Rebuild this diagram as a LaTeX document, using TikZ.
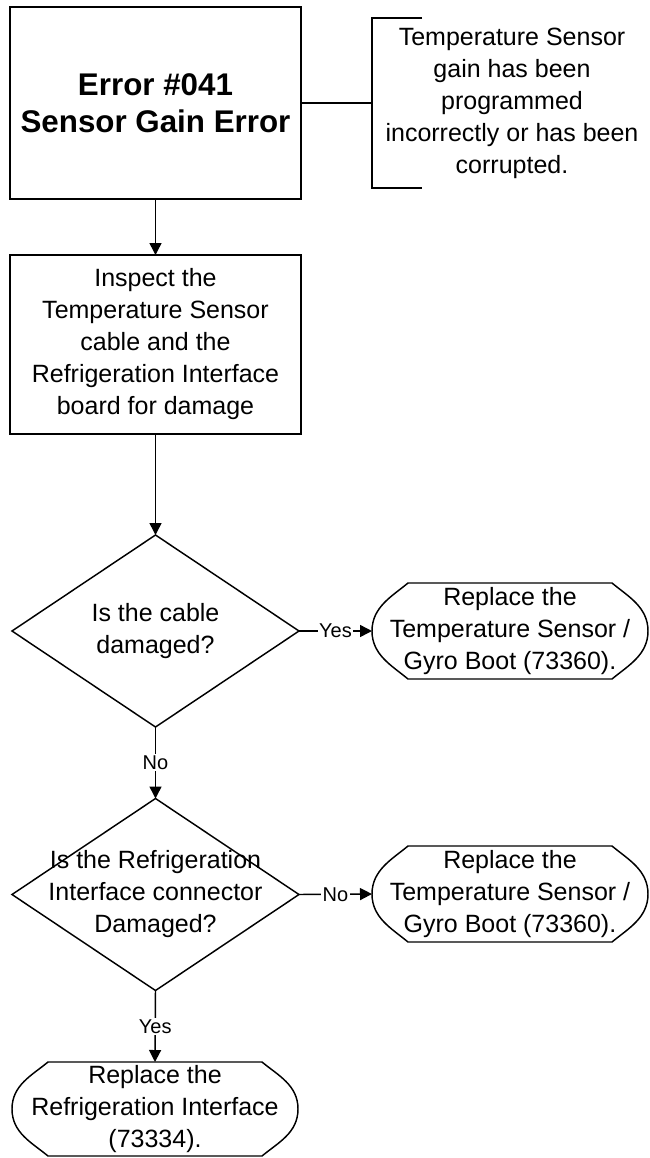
\documentclass[tikz,border=0pt]{standalone}
\usepackage{fontspec}
\setmainfont{Liberation Sans}
\usetikzlibrary{arrows.meta,shapes.geometric}
\tikzset{
  every picture/.style={line join=miter, >={Triangle[length=9pt,width=9pt]}},
  txt/.style={font=\fontsize{18.75}{24}\selectfont, align=center},
  box/.style={txt, draw, rectangle, line width=1.1pt, minimum width=218.25pt, inner sep=0pt, outer sep=0pt},
  decision/.style={draw, diamond, line width=1.1pt, minimum width=215.25pt, minimum height=144pt, inner sep=0pt, outer sep=0pt},
  term/.style={txt, rectangle, inner sep=0pt, outer sep=0pt},
  flow/.style={->, line width=1.1pt},
  lbl/.style={font=\fontsize{15}{18}\selectfont, fill=white, inner sep=1pt},
}
\begin{document}
\begin{tikzpicture}[x=0.75pt,y=-0.75pt]
\useasboundingbox (0,0) rectangle (650,1158);
% boxes
\node[box, minimum height=144pt, font=\fontsize{23.5}{27.75}\selectfont\bfseries] (err) at (155.5,103) {Error \#041\\Sensor Gain Error};
\node[box, minimum height=134.25pt] (insp) at (155.5,344.5) {Inspect the\\Temperature Sensor\\cable and the\\Refrigeration Interface\\board for damage};
% note on the error
\node[txt, minimum width=210pt, minimum height=127.5pt, inner sep=0pt, outer sep=0pt] (note) at (512,103) {Temperature Sensor\\gain has been\\programmed\\incorrectly or has been\\corrupted.};
\draw[line width=1.1pt] ([xshift=37.5pt]note.north west) -- (note.north west) -- (note.south west) -- ([xshift=37.5pt]note.south west);
\draw[line width=1.1pt] (err.east) -- (note.west);
% decisions
\node[decision] (q1) at (155.5,631) {};
\node[txt] (q1t) at (q1.center) {Is the cable\\damaged?};
\node[decision] (q2) at (155.5,894.5) {};
\node[txt] (q2t) at (q2.center) {Is the Refrigeration\\Interface connector\\Damaged?};
% ends
\node[term, minimum width=207pt, minimum height=72pt] (t1) at (510,631) {Replace the\\Temperature Sensor /\\Gyro Boot (73360).};
\node[term, minimum width=207pt, minimum height=72pt] (t2) at (510,894) {Replace the\\Temperature Sensor /\\Gyro Boot (73360).};
\node[term, minimum width=214.5pt, minimum height=70.5pt] (t3) at (155,1109) {Replace the\\Refrigeration Interface\\(73334).};
\foreach \t in {t1,t2,t3}
  \draw[line width=1.1pt] ([xshift=27pt]\t.north west) -- ([xshift=-27pt]\t.north east)
    .. controls ([xshift=-15pt,yshift=-10pt]\t.north east) and ([yshift=18pt]\t.east) .. (\t.east)
    .. controls ([yshift=-18pt]\t.east) and ([xshift=-15pt,yshift=10pt]\t.south east) .. ([xshift=-27pt]\t.south east)
    -- ([xshift=27pt]\t.south west)
    .. controls ([xshift=15pt,yshift=10pt]\t.south west) and ([yshift=-18pt]\t.west) .. (\t.west)
    .. controls ([yshift=18pt]\t.west) and ([xshift=15pt,yshift=-10pt]\t.north west) .. cycle;
% connectors
\draw[flow] (err.south) -- (insp.north);
\draw[flow] (insp.south) -- (q1.north);
\draw[flow] (q1.east) -- node[lbl]{Yes} (t1.west);
\draw[flow] (q1.south) -- node[lbl]{No} (q2.north);
\draw[flow] (q2.east) -- node[lbl]{No} (t2.west);
\draw[flow] (q2.south) -- node[lbl]{Yes} (t3.north);
\end{tikzpicture}
\end{document}
